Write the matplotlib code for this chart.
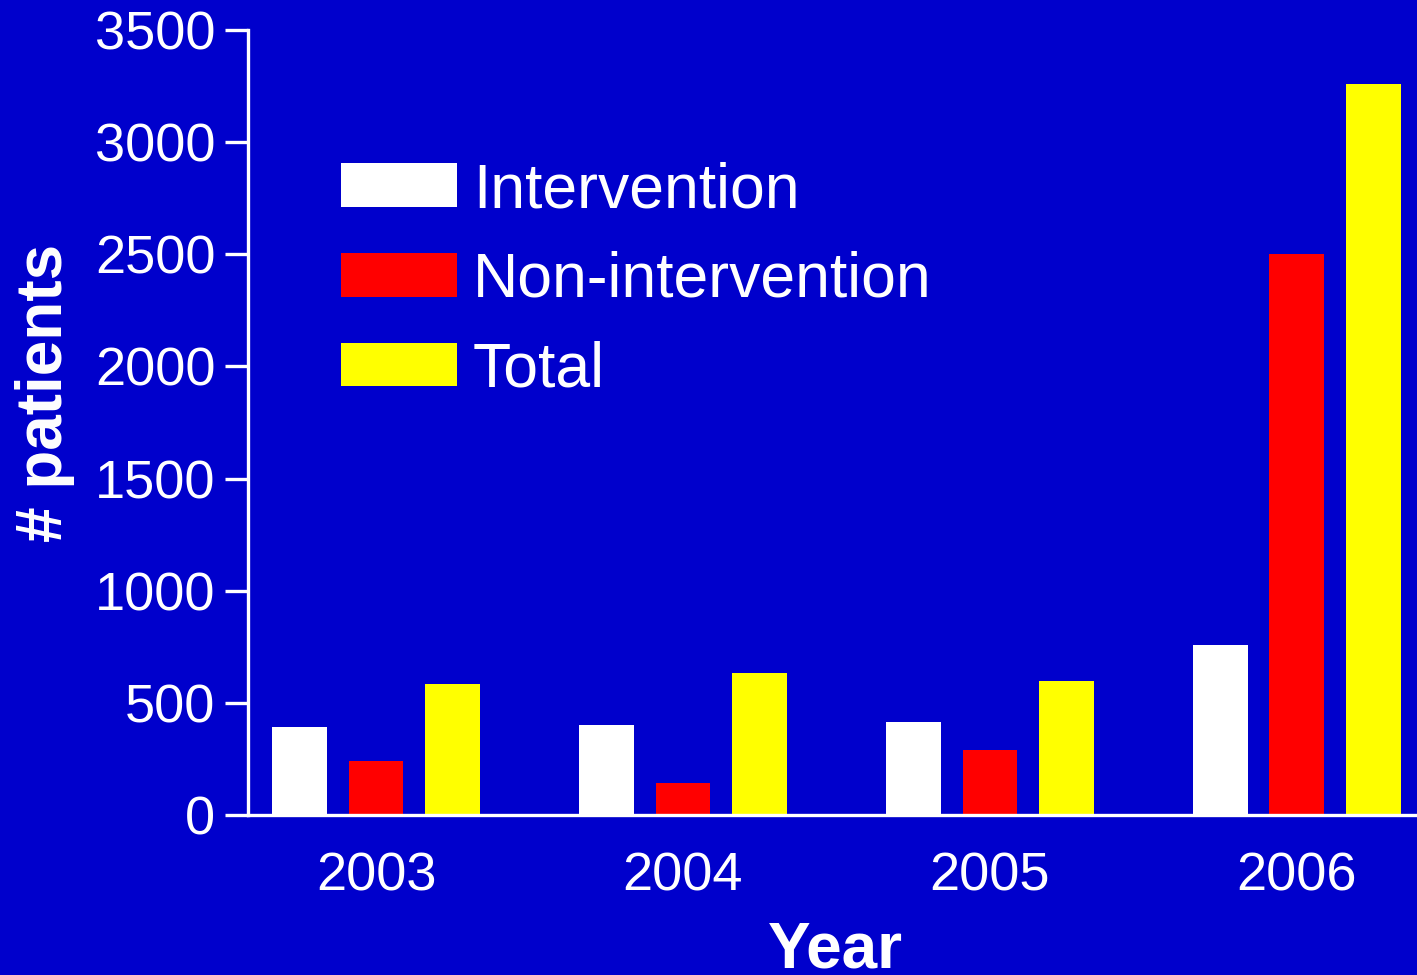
import numpy as np
import matplotlib
matplotlib.use("Agg")
import matplotlib.pyplot as plt

plt.rcParams['font.family'] = ['Liberation Sans', 'DejaVu Sans']

years = ['2003', '2004', '2005', '2006']
intervention = [392, 401, 415, 758]
non_intervention = [241, 143, 290, 2501]
total = [584, 633, 597, 3259]
series_names = ['Intervention', 'Non-intervention', 'Total']
colors = ['#ffffff', '#ff0000', '#ffff00']
bg = '#0000cc'

fig = plt.figure(figsize=(14.17, 9.75), dpi=100, facecolor=bg)
ax = fig.add_axes([248/1417, 1-815/975, 1-248/1417, (815-30)/975])
ax.set_facecolor(bg)

x = np.arange(len(years))
w = 0.179
for i, (vals, name, c) in enumerate(zip([intervention, non_intervention, total], series_names, colors)):
    ax.bar(x + (i-1)*0.25, vals, w, color=c, label=name, zorder=2)

ax.set_xlim(-0.417, 3.391)
ax.set_ylim(0, 3500)
ax.set_yticks(np.arange(0, 3501, 500))
ax.set_xticks(x)
ax.set_xticklabels(years)

for s in ['top', 'right']:
    ax.spines[s].set_visible(False)
for s in ['left', 'bottom']:
    ax.spines[s].set_color('white')
    ax.spines[s].set_linewidth(2.4)
    ax.spines[s].set_zorder(3)

ax.tick_params(axis='y', colors='white', labelsize=39, length=16.5, width=2.4, pad=7)
ax.tick_params(axis='x', colors='white', labelsize=39, length=0, pad=26)

leg = ax.legend(loc='upper left', bbox_to_anchor=(341/1417, 1-161/975), bbox_transform=fig.transFigure,
                frameon=False, fontsize=45, handlelength=1.86, handleheight=0.7,
                handletextpad=0.25, labelspacing=0.49, borderpad=0, borderaxespad=0)
for t in leg.get_texts():
    t.set_color('white')

fig.text(45/1417, 1-393/975, '# patients', rotation=90, color='white', fontsize=46,
         fontweight='bold', ha='center', va='center')
fig.text(835/1417, 1-967/975, 'Year', color='white', fontsize=46, fontweight='bold',
         ha='center', va='baseline')

fig.savefig('out.png', dpi=100, facecolor=bg)
